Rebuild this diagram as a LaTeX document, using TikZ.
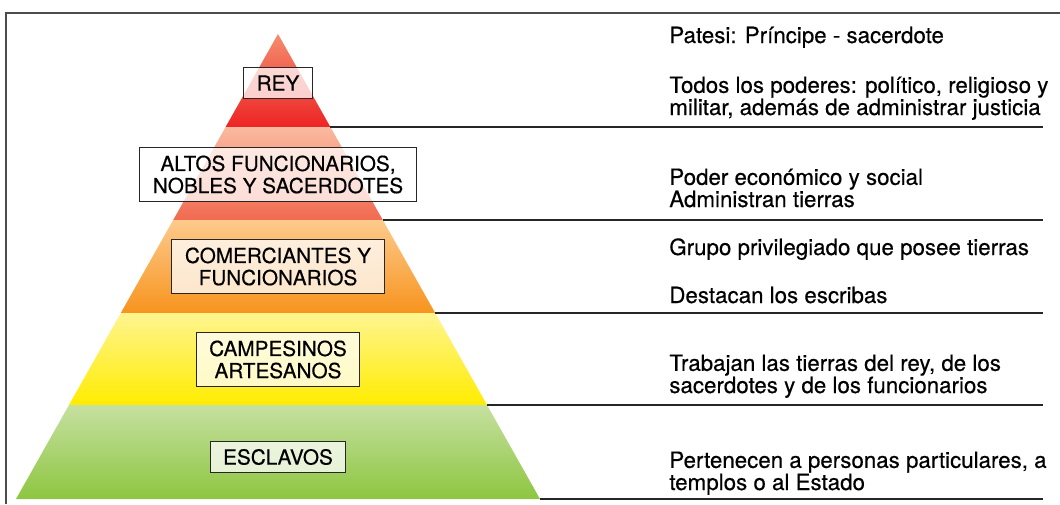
\documentclass[tikz,border=0pt]{standalone}
\usepackage{fontspec}
\setmainfont{TeX Gyre Heros}[FakeBold=0.4]
\definecolor{reytop}{RGB}{245,140,110}
\definecolor{reybot}{RGB}{237,36,36}
\definecolor{altostop}{RGB}{250,186,160}
\definecolor{altosbot}{RGB}{241,106,80}
\definecolor{comertop}{RGB}{253,202,140}
\definecolor{comerbot}{RGB}{247,148,30}
\definecolor{campetop}{RGB}{255,245,144}
\definecolor{campebot}{RGB}{255,236,0}
\definecolor{esclatop}{RGB}{198,224,160}
\definecolor{esclabot}{RGB}{141,198,65}

\begin{document}
\begin{tikzpicture}[
        x=0.02cm, y=-0.02cm,
        frame/.style={draw=black!70, line width=0.9pt},
        rule/.style={draw=black!85, line width=0.6pt},
        tag/.style={draw=black!85, line width=0.6pt, fill=white, fill opacity=0.75, text opacity=1,
            align=center, inner xsep=0.26cm, inner ysep=0.16cm, minimum height=0.6cm,
            font=\fontsize{11.8}{12.6}\selectfont},
        note/.style={anchor=base west, align=left, inner sep=0pt, font=\fontsize{12.7}{12.6}\selectfont}
    ]
        \useasboundingbox (0,0) rectangle (1060,504);
        \draw[frame] (6,504) -- (6,13) -- (1060,13);
        \coordinate (rightend) at (1043,0);

        % layers of the pyramid
        \foreach \ya/\yb/\ctop/\cbot [count=\i] in {34/127/reytop/reybot, 127/220/altostop/altosbot,
                220/313/comertop/comerbot, 313/405/campetop/campebot, 405/499/esclatop/esclabot}{
            \pgfmathsetmacro{\wa}{262/465*(\ya-34)}
            \pgfmathsetmacro{\wb}{262/465*(\yb-34)}
            \shade[top color=\ctop, bottom color=\cbot]
                (278-\wa,\ya) -- (278+\wa,\ya) -- (278+\wb,\yb) -- (278-\wb,\yb) -- cycle;
            \coordinate (edge\i) at (278+\wb,\yb);
        }
        \foreach \i in {1,...,5}
            \draw[rule] (edge\i) -- (edge\i -| rightend);

        \node[tag] (rey) at (278,83) {REY};
        \node[tag] (altos) at (278,174.5) {ALTOS FUNCIONARIOS,\\NOBLES Y SACERDOTES};
        \node[tag] (comer) at (278,266.5) {COMERCIANTES Y\\FUNCIONARIOS};
        \node[tag] (campe) at (278,359.5) {CAMPESINOS\\ARTESANOS};
        \node[tag] (escla) at (278,457) {ESCLAVOS};

        % notes: anchored at the baseline of their last line
        \node[note] (patesi) at (669,43) {Patesi: Príncipe - sacerdote};
        \node[note] (poderes) at (669,115) {Todos los poderes: político, religioso y\\militar, además de administrar justicia};
        \node[note] (economico) at (669,207) {Poder económico y social\\Administran tierras};
        \node[note] (grupo) at (669,255) {Grupo privilegiado que posee tierras};
        \node[note] (escribas) at (669,303) {Destacan los escribas};
        \node[note] (trabajan) at (669,393) {Trabajan las tierras del rey, de los\\sacerdotes y de los funcionarios};
        \node[note] (pertenecen) at (669,490) {Pertenecen a personas particulares, a\\templos o al Estado};
    \end{tikzpicture}
\end{document}
